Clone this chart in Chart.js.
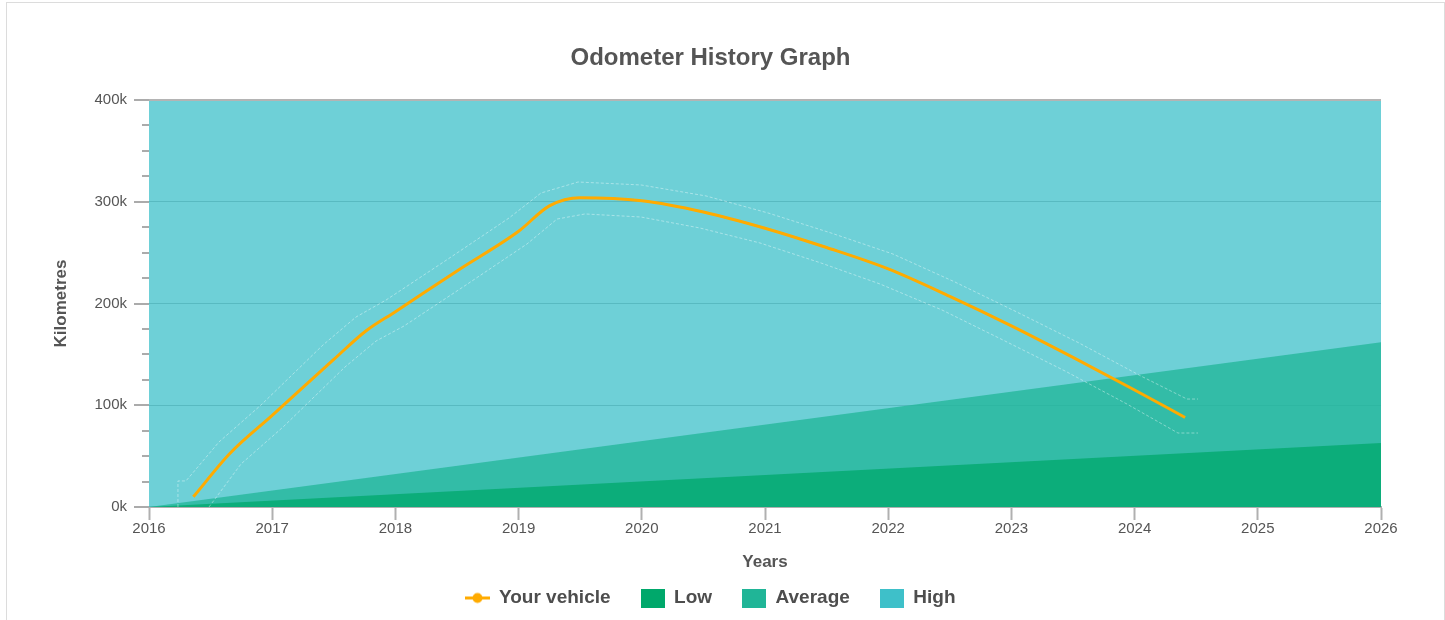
<!DOCTYPE html>
<html><head><meta charset="utf-8">
<script src="https://cdn.jsdelivr.net/npm/chart.js@4.4.1/dist/chart.umd.min.js"></script>
<style>
html,body{margin:0;padding:0;background:#fff;overflow:hidden;}
#frame{position:absolute;left:6px;top:2px;width:1439px;height:700px;border:1px solid #dcdcdc;box-sizing:border-box;}
#wrap{position:absolute;left:0;top:0;width:1445px;height:620px;}
</style></head><body>
<div id="frame"></div>
<div id="wrap"><canvas id="c" width="1445" height="620"></canvas></div>
<script>
// ---- data ----
const vehicleYears = [2016.36, 2016.66, 2017.0, 2017.5, 2017.76, 2018.0, 2018.5, 2019.0, 2019.25, 2019.5, 2020.0, 2020.5, 2021.0, 2021.5, 2022.0, 2022.5, 2023.0, 2023.5, 2024.0, 2024.41];
const vehicleKm    = [10000, 53000, 90000, 145000, 173000, 192000, 232000, 271000, 296000, 304000, 301000, 290000, 274000, 255000, 234000, 207000, 178000, 147000, 115000, 88000];

const upperYears = [2016.235, 2016.235, 2016.30, 2016.568, 2016.909, 2017.412, 2017.680, 2017.924, 2018.427, 2018.922, 2019.182, 2019.482, 2019.994, 2020.521, 2021.024, 2021.536, 2022.039, 2022.542, 2023.045, 2023.549, 2024.052, 2024.425, 2024.515];
const upperKm    = [0, 25600, 25600, 63900, 100200, 159200, 186700, 203400, 243700, 284000, 308600, 319400, 316500, 305700, 289000, 269300, 248600, 221100, 191600, 161200, 128700, 106100, 106100];

const lowerYears = [2016.487, 2016.747, 2017.088, 2017.591, 2017.843, 2018.070, 2018.573, 2019.068, 2019.312, 2019.539, 2019.994, 2020.472, 2020.959, 2021.455, 2021.933, 2022.437, 2022.932, 2023.435, 2023.938, 2024.352, 2024.515];
const lowerKm    = [0, 42300, 78600, 137600, 163100, 177900, 218200, 258500, 283000, 288000, 285000, 274200, 259500, 239800, 219200, 193600, 164100, 133700, 101200, 72700, 72700];

const rangeYears = [2016, 2026];
const lowKm      = [0, 63000];
const averageKm  = [0, 162000];
const highKm     = [400000, 400000];

const seriesNames = ['Your vehicle', 'Low', 'Average', 'High'];
const chartTitle = 'Odometer History Graph';
const xTitle = 'Years';
const yTitle = 'Kilometres';

// ---- helpers ----
const pts = (xs, ys) => xs.map((x, i) => ({x: x, y: ys[i]}));
const FONT = "'Liberation Sans', Arial, sans-serif";

function boxIcon(color) {
  const c = document.createElement('canvas'); c.width = 24; c.height = 19;
  const g = c.getContext('2d'); g.fillStyle = color; g.fillRect(0, 0, 24, 19); return c;
}
function lineIcon(color) {
  const c = document.createElement('canvas'); c.width = 25; c.height = 13;
  const g = c.getContext('2d');
  g.strokeStyle = color; g.lineWidth = 3; g.beginPath(); g.moveTo(0, 6.5); g.lineTo(25, 6.5); g.stroke();
  g.fillStyle = color; g.beginPath(); g.arc(12.5, 6.5, 5, 0, Math.PI * 2); g.fill();
  return c;
}
const legendColors = ['#ffab00', '#00a86b', '#20b597', '#3ec0c9'];
const legendIcons = [lineIcon(legendColors[0]), boxIcon(legendColors[1]), boxIcon(legendColors[2]), boxIcon(legendColors[3])];
const legendDatasets = [0, 3, 4, 5];

const axisMarks = {
  id: 'axisMarks',
  afterDraw(chart) {
    const y = chart.scales.y, ctx = chart.ctx, area = chart.chartArea;
    ctx.save(); ctx.strokeStyle = '#ababab'; ctx.lineWidth = 2;
    y.ticks.forEach(t => {
      const py = Math.round(y.getPixelForValue(t.value));
      const len = t.value % 100000 === 0 ? 15 : 7;
      ctx.beginPath(); ctx.moveTo(y.right - len, py); ctx.lineTo(y.right, py); ctx.stroke();
    });
    const top = Math.round(y.getPixelForValue(y.max));
    ctx.strokeStyle = '#b4b4b4';
    ctx.beginPath(); ctx.moveTo(area.left, top); ctx.lineTo(area.right, top); ctx.stroke();
    ctx.restore();
  }
};

new Chart(document.getElementById('c'), {
  type: 'line',
  data: {
    datasets: [
      { label: seriesNames[0], data: pts(vehicleYears, vehicleKm), borderColor: '#ffab00', borderWidth: 3,
        pointRadius: 0, cubicInterpolationMode: 'monotone', fill: false },
      { label: 'upper', data: pts(upperYears, upperKm), borderColor: 'rgba(255,255,255,0.4)', borderWidth: 1,
        borderDash: [3, 2], pointRadius: 0, tension: 0, fill: false },
      { label: 'lower', data: pts(lowerYears, lowerKm), borderColor: 'rgba(255,255,255,0.4)', borderWidth: 1,
        borderDash: [3, 2], pointRadius: 0, tension: 0, fill: false },
      { label: seriesNames[1], data: pts(rangeYears, lowKm), borderWidth: 0, pointRadius: 0,
        backgroundColor: 'rgba(0,168,107,0.75)', fill: 'origin' },
      { label: seriesNames[2], data: pts(rangeYears, averageKm), borderWidth: 0, pointRadius: 0,
        backgroundColor: 'rgba(32,181,151,0.75)', fill: 'origin' },
      { label: seriesNames[3], data: pts(rangeYears, highKm), borderWidth: 0, pointRadius: 0,
        backgroundColor: 'rgba(62,192,201,0.75)', fill: 'origin' }
    ]
  },
  options: {
    responsive: false,
    animation: false,
    devicePixelRatio: 1,
    layout: { padding: { left: 40, right: 64, top: 0, bottom: 2.5 } },
    plugins: {
      tooltip: { enabled: false },
      title: { display: true, text: chartTitle, color: '#555',
        font: { family: FONT, size: 24, weight: 'bold' }, padding: { top: 43.6, bottom: 27.6 } },
      legend: {
        position: 'bottom',
        labels: {
          usePointStyle: true, pointStyleWidth: 24, padding: 30,
          font: { family: FONT, size: 19, weight: 'bold' }, color: '#4d4d4d',
          generateLabels: () => seriesNames.map((n, i) => ({
            text: n, pointStyle: legendIcons[i], fillStyle: legendColors[i], strokeStyle: legendColors[i],
            lineWidth: 0, hidden: false, datasetIndex: legendDatasets[i], fontColor: '#4d4d4d'
          }))
        }
      }
    },
    scales: {
      x: {
        type: 'linear', min: 2016, max: 2026,
        afterFit: s => { s.height = 51.5; },
        ticks: { stepSize: 1, padding: 0, color: '#555', font: { family: FONT, size: 15 },
          callback: v => String(v) },
        grid: { display: true, drawOnChartArea: false, drawTicks: true, tickLength: 13,
          tickColor: '#b0b0b0', tickWidth: 2 },
        border: { display: true, color: '#b0b0b0', width: 2 },
        title: { display: true, text: xTitle, color: '#555', font: { family: FONT, size: 17, weight: 'bold' },
          padding: { top: 0, bottom: -13.7 } }
      },
      y: {
        min: 0, max: 400000,
        afterFit: s => { s.width = 109; },
        ticks: { stepSize: 25000, padding: 22, color: '#555', font: { family: FONT, size: 15 },
          callback: v => (v % 100000 === 0 ? (v / 1000) + 'k' : '') },
        grid: { drawTicks: false,
          color: c => (c.tick && c.tick.value % 100000 === 0 ? '#a8a8a8' : 'rgba(0,0,0,0)'),
          lineWidth: 1 },
        border: { display: false },
        title: { display: true, text: yTitle, color: '#555', font: { family: FONT, size: 17, weight: 'bold' },
          padding: { top: 10.8, bottom: 0 } }
      }
    }
  },
  plugins: [axisMarks]
});
</script>
</body></html>
